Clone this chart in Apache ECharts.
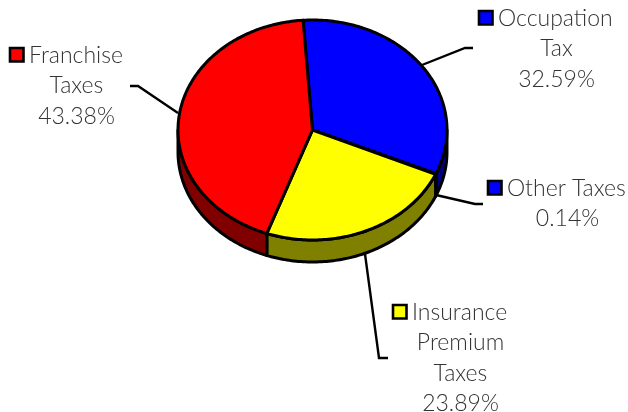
<!DOCTYPE html>
<html>
<head>
<meta charset="utf-8">
<style>html,body{margin:0;padding:0;background:#fff}#chart{width:628px;height:412px}</style>
<script src="https://cdn.jsdelivr.net/npm/echarts@6/dist/echarts.min.js"></script>
</head>
<body>
<div id="chart"></div>
<script>
// Tax revenue shares, clockwise from the top of the disc
const categories = ['Occupation Tax', 'Other Taxes', 'Insurance Premium Taxes', 'Franchise Taxes'];
const shares = [32.59, 0.14, 23.89, 43.38];
const labelRows = [['Occupation', 'Tax'], ['Other Taxes'], ['Insurance', 'Premium', 'Taxes'], ['Franchise', 'Taxes']];
const topColors = ['#0000ff', '#0000ff', '#ffff00', '#ff0000'];
const sideColors = ['#000080', '#000080', '#808000', '#800000'];

// Disc geometry
const disc = { cx: 312.5, cy: 130, rx: 134.5, ry: 110, depth: 22, startDeg: -4 };
const outline = { stroke: '#000', lineWidth: 3, lineJoin: 'round' };
const textStyle = { fill: '#333333', fontFamily: 'Lato', fontWeight: 300, fontSize: 23 };

// Callout placement: legend key, centre of the text block, first text row, leader polyline
const callouts = [
  { key: [479, 11], cx: 556.5, y: 18.5, leader: [[422, 65], [465, 48], [473, 48]] },
  { key: [488, 181], cx: 567.5, y: 188.5, leader: [[436, 195], [475, 204], [483, 204]] },
  { key: [393, 305], cx: 460.5, y: 312.5, leader: [[365, 254], [379, 358], [388, 358]] },
  { key: [10, 48], cx: 76.5, y: 55.5, leader: [[178, 113], [138, 86], [130, 86]] }
];
const rowGap = 30.5;

function rimPoint(deg, dy) {
  const a = deg * Math.PI / 180;
  return [disc.cx + disc.rx * Math.sin(a), disc.cy - disc.ry * Math.cos(a) + dy];
}
function arcPoints(from, to, dy) {
  const n = Math.max(1, Math.ceil(Math.abs(to - from)));
  const pts = [];
  for (let i = 0; i <= n; i++) pts.push(rimPoint(from + (to - from) * i / n, dy));
  return pts;
}
// Start and end angle of a slice, accumulated from the shares
function sliceRange(index) {
  const total = shares.reduce((s, v) => s + v, 0);
  const before = shares.slice(0, index).reduce((s, v) => s + v, 0);
  return [disc.startDeg + before / total * 360, disc.startDeg + (before + shares[index]) / total * 360];
}

function renderSide(params, api) {
  const i = api.value(0);
  const [a, b] = sliceRange(i);
  const from = Math.max(a, 90), to = Math.min(b, 270);
  if (to <= from) return { type: 'group', children: [] };
  const pts = arcPoints(from, to, 0).concat(arcPoints(to, from, disc.depth));
  return { type: 'polygon', shape: { points: pts }, style: { fill: sideColors[i], ...outline } };
}
function renderTop(params, api) {
  const i = api.value(0);
  const [a, b] = sliceRange(i);
  const pts = [[disc.cx, disc.cy]].concat(arcPoints(a, b, 0));
  return { type: 'polygon', shape: { points: pts }, style: { fill: topColors[i], ...outline } };
}
function renderCallout(params, api) {
  const i = api.value(0);
  const c = callouts[i];
  const rows = labelRows[i].concat(api.value(1).toFixed(2) + '%');
  const children = [
    { type: 'polyline', shape: { points: c.leader }, style: { fill: null, stroke: '#000', lineWidth: 2.4 } },
    { type: 'rect', shape: { x: c.key[0], y: c.key[1], width: 13.5, height: 13.5 }, style: { fill: topColors[i], stroke: '#000', lineWidth: 2.6, lineJoin: 'miter' } }
  ];
  rows.forEach((row, r) => {
    let x = c.cx, align = 'center';
    if (r === 0) { x = c.key[0] + 19; align = 'left'; }
    children.push({ type: 'text', style: { ...textStyle, text: row, x, y: c.y + r * rowGap, align, verticalAlign: 'middle' } });
  });
  return { type: 'group', children };
}

const rows = categories.map((name, i) => [i, shares[i], name]);
const chart = echarts.init(document.getElementById('chart'), null, { renderer: 'canvas' });
chart.setOption({
  animation: false,
  backgroundColor: '#ffffff',
  series: [
    { type: 'custom', coordinateSystem: 'none', data: rows, renderItem: renderSide, z: 1, silent: true },
    { type: 'custom', coordinateSystem: 'none', data: rows, renderItem: renderTop, z: 2, silent: true },
    { type: 'custom', coordinateSystem: 'none', data: rows, renderItem: renderCallout, z: 3, silent: true }
  ]
});
</script>
</body>
</html>
